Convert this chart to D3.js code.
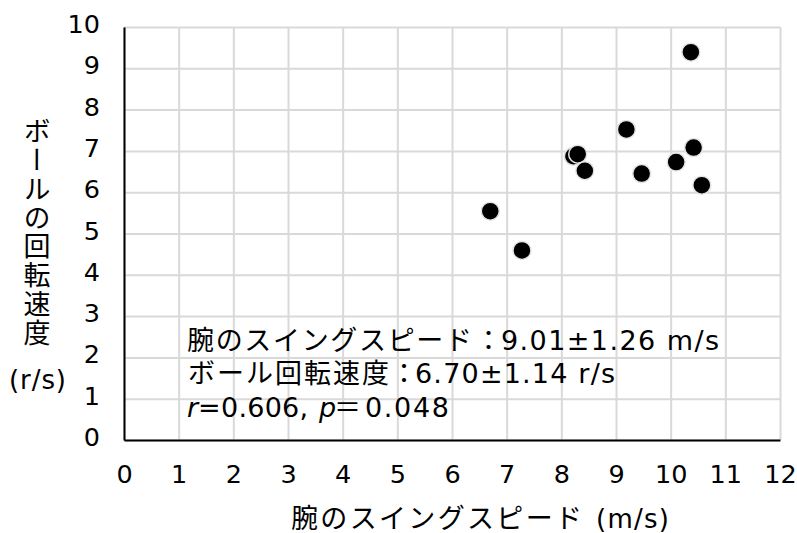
<!DOCTYPE html>
<html><head><meta charset="utf-8">
<script src="https://cdn.jsdelivr.net/npm/d3@7"></script>
<style>body{margin:0;background:#fff} svg{display:block}</style>
</head><body><svg id="c" width="797" height="533"></svg>
<script>
// ---- data ----
const armSpeed = [6.70, 7.28, 8.22, 8.30, 8.43, 9.19, 9.47, 10.10, 10.37, 10.42, 10.57];
const ballSpin = [5.54, 4.59, 6.87, 6.92, 6.52, 7.52, 6.45, 6.73, 9.39, 7.08, 6.17];
const xTicks = [0,1,2,3,4,5,6,7,8,9,10,11,12];
const yTicks = [0,1,2,3,4,5,6,7,8,9,10];
const xTitle = "腕のスイングスピード";
const xUnit = "(m/s)";
const yTitle = "ボールの回転速度";
const yUnit = "(r/s)";
const statLabels = ["腕のスイングスピード", "ボール回転速度"];
const statValues = ["9.01±1.26 m/s", "6.70±1.14 r/s"];
const corrR = "0.606,";
const corrP = "0.048";

// ---- layout ----
const FONT = "'DejaVu Sans', 'Noto Sans CJK JP', sans-serif";
const JP = "'Noto Sans CJK JP', sans-serif";
const svg = d3.select("#c");
const x = d3.scaleLinear().domain([0, 12]).range([124, 780]);
const y = d3.scaleLinear().domain([0, 10]).range([440, 27]);

// gridlines
const gx = svg.append("g").attr("transform", `translate(0,${y(0)})`)
  .call(d3.axisBottom(x).tickValues(xTicks).tickSize(-(y(0) - y(10))).tickFormat(""));
gx.select(".domain").remove();
gx.selectAll("line").attr("stroke", "#d9d9d9").attr("stroke-width", 2);

const gy = svg.append("g").attr("transform", `translate(${x(0)},0)`)
  .call(d3.axisLeft(y).tickValues(yTicks).tickSize(-(x(12) - x(0))).tickFormat(""));
gy.select(".domain").remove();
gy.selectAll("line").attr("stroke", "#d9d9d9").attr("stroke-width", 2);

// axes with labels
const ax = svg.append("g").attr("transform", `translate(0,${y(0)})`)
  .call(d3.axisBottom(x).tickValues(xTicks).tickSize(0).tickSizeOuter(0).tickFormat(d3.format("d")));
ax.select(".domain").attr("stroke", "#000").attr("stroke-width", 2);
ax.selectAll("text").attr("y", 43).attr("dy", 0)
  .attr("font-family", FONT).attr("font-size", 25.5).attr("fill", "#000");

const ay = svg.append("g").attr("transform", `translate(${x(0)},0)`)
  .call(d3.axisLeft(y).tickValues(yTicks).tickSize(0).tickSizeOuter(0).tickFormat(d3.format("d")));
ay.select(".domain").attr("stroke", "#000").attr("stroke-width", 2);
ay.selectAll("text").attr("x", -24).attr("dy", 5.5)
  .attr("font-family", FONT).attr("font-size", 25.5).attr("fill", "#000");

// points
svg.append("g").selectAll("circle")
  .data(armSpeed.map((v, i) => [v, ballSpin[i]]))
  .join("circle")
  .attr("cx", d => x(d[0])).attr("cy", d => y(d[1])).attr("r", 9)
  .attr("fill", "#000").attr("stroke", "#e4e4e4").attr("stroke-width", 1.5);

// y title (vertical, one text element)
svg.append("text")
  .attr("x", 37).attr("y", 117.5)
  .attr("font-family", JP).attr("font-size", 27).attr("fill", "#000")
  .style("writing-mode", "vertical-rl").style("text-orientation", "upright")
  .style("letter-spacing", "1.8px")
  .text(yTitle);
svg.append("text").attr("x", 9).attr("y", 389)
  .attr("font-family", FONT).attr("font-size", 26)
  .attr("textLength", 57).attr("lengthAdjust", "spacing").text(yUnit);

// x title (single text element)
const xt = svg.append("text").attr("y", 528).attr("fill", "#000");
xt.append("tspan").attr("x", 291).attr("font-family", JP).attr("font-size", 27)
  .attr("textLength", 291).attr("lengthAdjust", "spacing").text(xTitle);
xt.append("tspan").attr("x", 596).attr("font-family", FONT).attr("font-size", 26)
  .attr("textLength", 73).attr("lengthAdjust", "spacing").text(xUnit);

// stats annotation (one text element, three lines)
const ann = svg.append("text").attr("fill", "#000").attr("font-size", 27);
const rows = [
  {base: 349.5, jx: 187, jl: 285, colon: 475, vx: 501, vl: 218},
  {base: 383,   jx: 188, jl: 201, colon: 390.5, vx: 415, vl: 200}
];
rows.forEach((r, i) => {
  ann.append("tspan").attr("x", r.jx).attr("y", r.base).attr("font-family", JP)
    .attr("textLength", r.jl).attr("lengthAdjust", "spacing").text(statLabels[i]);
  ann.append("tspan").attr("x", r.colon).attr("y", r.base).attr("font-family", JP).text("：");
  ann.append("tspan").attr("x", r.vx).attr("y", r.base).attr("font-family", FONT)
    .attr("textLength", r.vl).attr("lengthAdjust", "spacing").text(statValues[i]);
});
ann.append("tspan").attr("x", 187).attr("y", 416.5).attr("font-family", FONT)
  .attr("font-style", "italic").text("r");
ann.append("tspan").attr("font-family", FONT)
  .attr("textLength", 110).attr("lengthAdjust", "spacing").text("=" + corrR);
ann.append("tspan").attr("x", 319).attr("font-family", FONT).attr("font-style", "italic").text("p");
ann.append("tspan").attr("x", 334).attr("font-family", JP).text("＝");
ann.append("tspan").attr("x", 365).attr("font-family", FONT)
  .attr("textLength", 84).attr("lengthAdjust", "spacing").text(corrP);
</script>
</body></html>
